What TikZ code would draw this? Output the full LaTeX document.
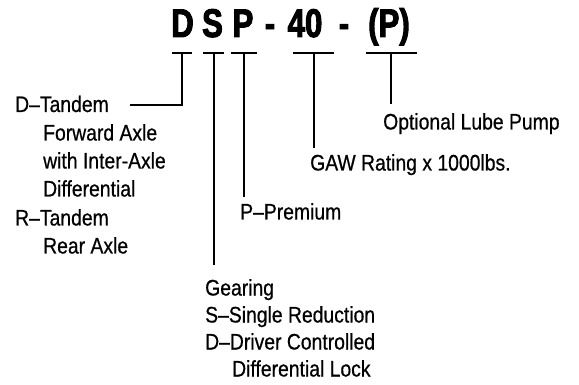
\documentclass[tikz,border=0pt]{standalone}
\usepackage{fontspec}
\setmainfont{Liberation Sans}[FakeStretch=0.86,FakeBold=0.6]
\newfontfamily\titlefont{Liberation Sans}[FakeStretch=0.78,FakeBold=2.4]
\begin{document}
\begin{tikzpicture}[x=1pt,y=-1pt,
  lbl/.style={anchor=base west, inner sep=0pt, font=\fontsize{22.5}{22.5}\selectfont},
  ttl/.style={anchor=base, inner sep=0pt, font=\titlefont\bfseries\fontsize{40}{40}\selectfont},
  conn/.style={line width=2pt, line cap=butt}]
\useasboundingbox (0,0) rectangle (579,385);
% title
\node[ttl] (tD) at (182.5,37) {D};
\node[ttl] (tS) at (212.5,37) {S};
\node[ttl] (tP) at (243,37) {P};
\node[ttl] (td1) at (270,37) {-};
\node[ttl] (t40) at (305,37) {40};
\node[ttl] (td2) at (344,37) {-};
\node[ttl] (tOP) at (389,37) {(P)};
% bar coordinates
\coordinate (bD) at (182,53);
\coordinate (bS) at (213.5,53);
\coordinate (bP) at (244,53);
\coordinate (b40) at (313.5,53);
\coordinate (bOP) at (391,53);
\draw[conn] (172,53) -- (192,53);
\draw[conn] (203,53) -- (224,53);
\draw[conn] (231,53) -- (257,53);
\draw[conn] (293,53) -- (334,53);
\draw[conn] (366,53) -- (417,53);
% labels
\node[lbl] (dt) at (15,112) {D–Tandem};
\node[lbl] (fa) at (43,140.5) {Forward Axle};
\node[lbl] (wi) at (43,168.5) {with Inter-Axle};
\node[lbl] (df) at (43,196.5) {Differential};
\node[lbl] (rt) at (15,225.5) {R–Tandem};
\node[lbl] (ra) at (43,253.5) {Rear Axle};
\node[lbl] (pp) at (240,219.5) {P–Premium};
\node[lbl] (ge) at (205,295.5) {Gearing};
\node[lbl] (sr) at (205,322.5) {S–Single Reduction};
\node[lbl] (dc) at (205,349.5) {D–Driver Controlled};
\node[lbl] (dl) at (232,376.5) {Differential Lock};
\node[lbl] (gaw) at (310,170.5) {GAW Rating x 1000lbs.};
\node[lbl] (olp) at (383,129.5) {Optional Lube Pump};
% connectors
\coordinate (eD) at (130,105);
\coordinate (eS) at (213.5,265);
\coordinate (eP) at (244,197);
\coordinate (e40) at (313.5,148);
\coordinate (eOP) at (391,104);
\draw[conn] (bD) |- (eD);
\draw[conn] (bS) -- (eS);
\draw[conn] (bP) -- (eP);
\draw[conn] (b40) -- (e40);
\draw[conn] (bOP) -- (eOP);
\end{tikzpicture}
\end{document}
